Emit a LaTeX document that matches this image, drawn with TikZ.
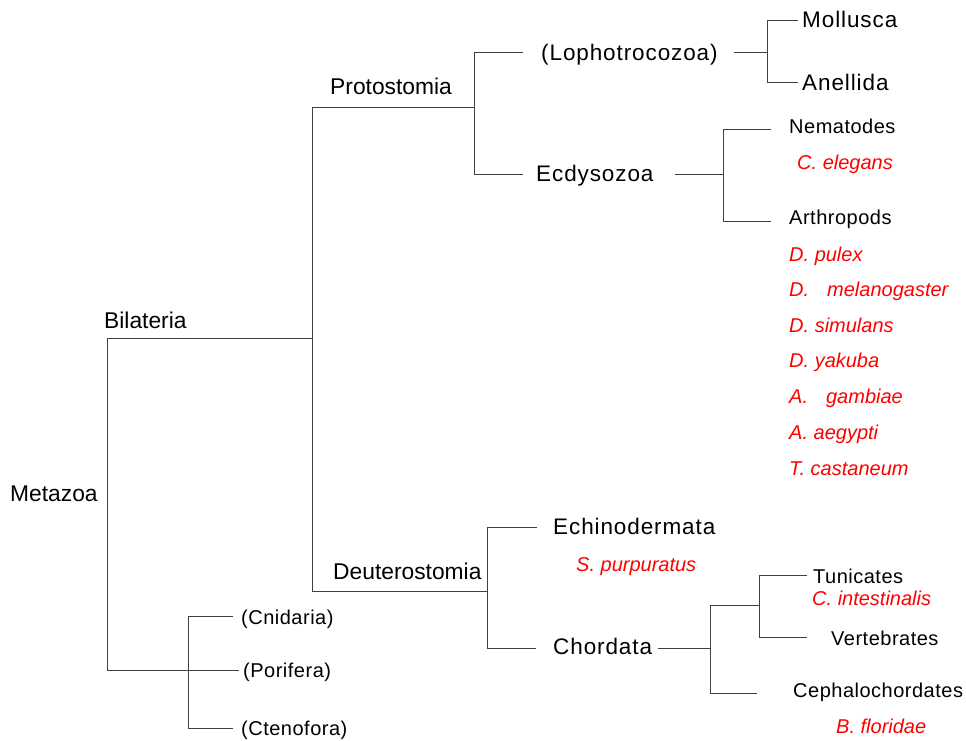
\documentclass[tikz,border=0pt]{standalone}
\usepackage{fontspec}
\setmainfont{Liberation Sans}
\begin{document}
\begin{tikzpicture}[x=1pt,y=-1pt,
  lbl/.style={anchor=base west, inner sep=0pt, text=black},
  bigt/.style={lbl, font=\fontsize{22.5}{27}\selectfont\addfontfeature{LetterSpace=4}},
  midt/.style={lbl, font=\fontsize{22.8}{27}\selectfont},
  smallt/.style={lbl, font=\fontsize{20}{24}\selectfont\addfontfeature{LetterSpace=2.5}},
  spec/.style={lbl, text=red, font=\fontsize{20}{24}\selectfont\itshape},
  branch/.style={draw=black!75, line width=0.9pt}]
\useasboundingbox[fill=white] (0,0) rectangle (966,740);

% labels
\node[midt] (meta) at (10,501) {Metazoa};
\node[midt] (bila) at (104,328) {Bilateria};
\node[midt] (prot) at (330,94) {Protostomia};
\node[midt] (deut) at (333,579) {Deuterostomia};
\node[bigt] (loph) at (541,60) {(Lophotrocozoa)};
\node[bigt] (ecdy) at (536,181) {Ecdysozoa};
\node[bigt] (moll) at (802,27) {Mollusca};
\node[bigt] (anel) at (802,90) {Anellida};
\node[bigt] (echi) at (553,534) {Echinodermata};
\node[bigt] (chor) at (553,654) {Chordata};
\node[smallt] (nema) at (789,133) {Nematodes};
\node[smallt] (arth) at (789,224) {Arthropods};
\node[smallt] (tuni) at (813,583) {Tunicates};
\node[smallt] (vert) at (831,645) {Vertebrates};
\node[smallt] (ceph) at (793,697) {Cephalochordates};
\node[smallt] (cnid) at (241,624) {(Cnidaria)};
\node[smallt] (pori) at (243,677) {(Porifera)};
\node[smallt] (cten) at (241,735) {(Ctenofora)};
\node[spec] (cele) at (797,169) {C. elegans};
\node[spec] (dpul) at (789,261) {D. pulex};
\node[spec] (dmel) at (789,296.5) {D.\hspace{18pt}melanogaster};
\node[spec] (dsim) at (789,332.5) {D. simulans};
\node[spec] (dyak) at (789,367.5) {D. yakuba};
\node[spec] (agam) at (789,403.5) {A.\hspace{18pt}gambiae};
\node[spec] (aaeg) at (789,439.5) {A. aegypti};
\node[spec] (tcas) at (789,475.5) {T. castaneum};
\node[spec] (spur) at (576,571) {S. purpuratus};
\node[spec] (cint) at (812,605) {C. intestinalis};
\node[spec] (bflo) at (836,733) {B. floridae};

% branch points
\coordinate (jBil) at (312,338);
\coordinate (mV) at (107,338);
\coordinate (porE) at (239,670);
\coordinate (cnE) at (233,616);
\coordinate (cnA) at (188,616);
\coordinate (ctA) at (188,728);
\coordinate (ctE) at (233,728);
\coordinate (proJ) at (474,107);
\coordinate (pV) at (312,107);
\coordinate (dV) at (312,591);
\coordinate (deuJ) at (487,591);
\coordinate (lophS) at (523,52);
\coordinate (l1) at (474,52);
\coordinate (e1) at (474,174);
\coordinate (ecdS) at (523,174);
\coordinate (lophR) at (734,52);
\coordinate (lJ) at (767,52);
\coordinate (mollS) at (798,20);
\coordinate (m1) at (767,20);
\coordinate (a1) at (767,82);
\coordinate (anS) at (798,82);
\coordinate (ecdR) at (675,174);
\coordinate (eJ) at (723,174);
\coordinate (nemS) at (771,129);
\coordinate (n1) at (723,129);
\coordinate (ar1) at (723,221);
\coordinate (arS) at (771,221);
\coordinate (echS) at (537,527);
\coordinate (ec1) at (487,527);
\coordinate (ch1) at (487,648);
\coordinate (chS) at (536,648);
\coordinate (chR) at (658,648);
\coordinate (cJ) at (710,648);
\coordinate (tJ) at (759,605);
\coordinate (t1) at (710,605);
\coordinate (ce1) at (710,693);
\coordinate (ceS) at (757,693);
\coordinate (tuS) at (807,575);
\coordinate (tu1) at (759,575);
\coordinate (ve1) at (759,637);
\coordinate (veS) at (807,637);

% branches
\draw[branch] (jBil) -- (mV) |- (porE);
\draw[branch] (cnE) -- (cnA) -- (ctA) -- (ctE);
\draw[branch] (proJ) -- (pV) -- (dV) -- (deuJ);
\draw[branch] (lophS) -- (l1) -- (e1) -- (ecdS);
\draw[branch] (lophR) -- (lJ);
\draw[branch] (mollS) -- (m1) -- (a1) -- (anS);
\draw[branch] (ecdR) -- (eJ);
\draw[branch] (nemS) -- (n1) -- (ar1) -- (arS);
\draw[branch] (echS) -- (ec1) -- (ch1) -- (chS);
\draw[branch] (chR) -- (cJ);
\draw[branch] (tJ) -- (t1) -- (ce1) -- (ceS);
\draw[branch] (tuS) -- (tu1) -- (ve1) -- (veS);
\end{tikzpicture}
\end{document}
